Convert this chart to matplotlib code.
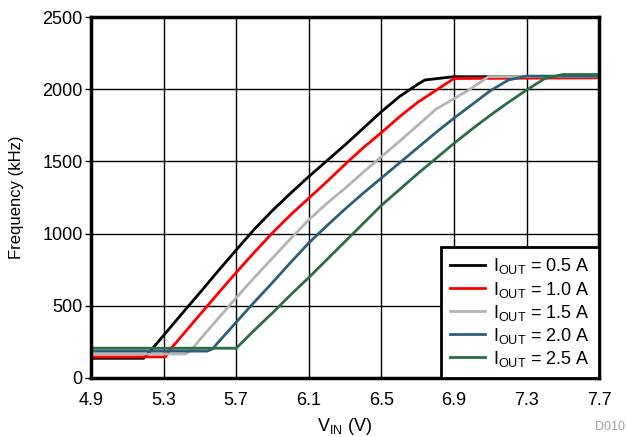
import matplotlib
matplotlib.use('Agg')
import matplotlib.pyplot as plt

plt.rcParams['font.family'] = ['Liberation Sans', 'DejaVu Sans']
plt.rcParams['mathtext.fontset'] = 'custom'
plt.rcParams['mathtext.rm'] = 'Liberation Sans'

# input voltage (V) / switching frequency (kHz) per load current
vin_05 = [4.9, 5.19, 5.23, 5.3, 5.4, 5.5, 5.6, 5.7, 5.8, 5.9, 6.0, 6.1, 6.2, 6.3, 6.4, 6.5, 6.6, 6.7, 6.74, 6.9, 7.7]
f_05 = [135, 135, 190, 294, 443, 590, 740, 886, 1030, 1160, 1280, 1395, 1505, 1615, 1730, 1845, 1950, 2035, 2065, 2088, 2088]

vin_10 = [4.9, 5.31, 5.33, 5.4, 5.5, 5.6, 5.7, 5.8, 5.9, 6.0, 6.1, 6.2, 6.3, 6.4, 6.5, 6.6, 6.7, 6.9, 7.7]
f_10 = [145, 145, 188, 290, 438, 585, 730, 870, 1005, 1130, 1245, 1360, 1480, 1595, 1700, 1810, 1910, 2075, 2080]

vin_15 = [4.9, 5.42, 5.45, 5.5, 5.6, 5.7, 5.8, 5.9, 6.0, 6.1, 6.2, 6.3, 6.4, 6.5, 6.6, 6.7, 6.8, 6.9, 7.0, 7.09, 7.7]
f_15 = [165, 165, 188, 265, 410, 555, 695, 830, 965, 1095, 1210, 1314, 1425, 1533, 1640, 1750, 1862, 1935, 2010, 2088, 2090]

vin_20 = [4.9, 5.54, 5.57, 5.6, 5.7, 5.8, 5.9, 6.0, 6.1, 6.2, 6.3, 6.4, 6.5, 6.6, 6.7, 6.8, 6.9, 7.0, 7.1, 7.2, 7.3, 7.7]
f_20 = [185, 185, 200, 245, 385, 525, 660, 800, 935, 1055, 1170, 1280, 1385, 1490, 1595, 1700, 1800, 1895, 1990, 2065, 2092, 2092]

vin_25 = [4.9, 5.7, 5.8, 5.9, 6.0, 6.1, 6.2, 6.3, 6.4, 6.5, 6.6, 6.7, 6.8, 6.9, 7.0, 7.1, 7.2, 7.3, 7.4, 7.5, 7.7]
f_25 = [205, 205, 330, 450, 575, 695, 820, 945, 1070, 1195, 1305, 1415, 1520, 1625, 1725, 1820, 1910, 1995, 2075, 2103, 2103]

currents = ['0.5', '1.0', '1.5', '2.0', '2.5']
colors = ['black', '#ff0000', '#b4b4b4', '#2e5f7a', '#2e6b47']

x_ticks = [4.9, 5.3, 5.7, 6.1, 6.5, 6.9, 7.3, 7.7]
y_ticks = [0, 500, 1000, 1500, 2000, 2500]

fig = plt.figure(figsize=(6.26, 4.37), dpi=100)
ax = fig.add_axes([0.1454, 0.1355, 0.8116, 0.825])

series = [(vin_05, f_05), (vin_10, f_10), (vin_15, f_15), (vin_20, f_20), (vin_25, f_25)]
for (v, f), cur, col in zip(series, currents, colors):
    ax.plot(v, f, color=col, lw=2, label=r'I$_{\mathregular{OUT}}$ = ' + cur + ' A')

ax.set_xlim(4.9, 7.7)
ax.set_ylim(0, 2500)
ax.set_xticks(x_ticks)
ax.set_yticks(y_ticks)
ax.set_xticklabels([f'{t:.1f}' for t in x_ticks])
ax.grid(True, color='black', lw=1)
ax.set_axisbelow(True)
for s in ax.spines.values():
    s.set_linewidth(2.5)
ax.tick_params(axis='x', length=0, labelsize=13, pad=10)
ax.tick_params(axis='y', length=4, width=1, labelsize=13, pad=2)

ax.set_xlabel(r'V$_{\mathregular{IN}}$ (V)', fontsize=13, labelpad=5)
ax.set_ylabel('Frequency (kHz)', fontsize=12, labelpad=13)

leg = ax.legend(loc='lower right', borderaxespad=0, fontsize=13, handlelength=1.95,
                labelspacing=0.17, fancybox=False, framealpha=1, edgecolor='black',
                borderpad=0.5, handletextpad=0.45)
leg.get_frame().set_linewidth(2)

fig.text(0.998, 0.01, 'D010', fontsize=9, color='#a0a0a0', ha='right', va='bottom')

fig.savefig('out.png', dpi=100)
